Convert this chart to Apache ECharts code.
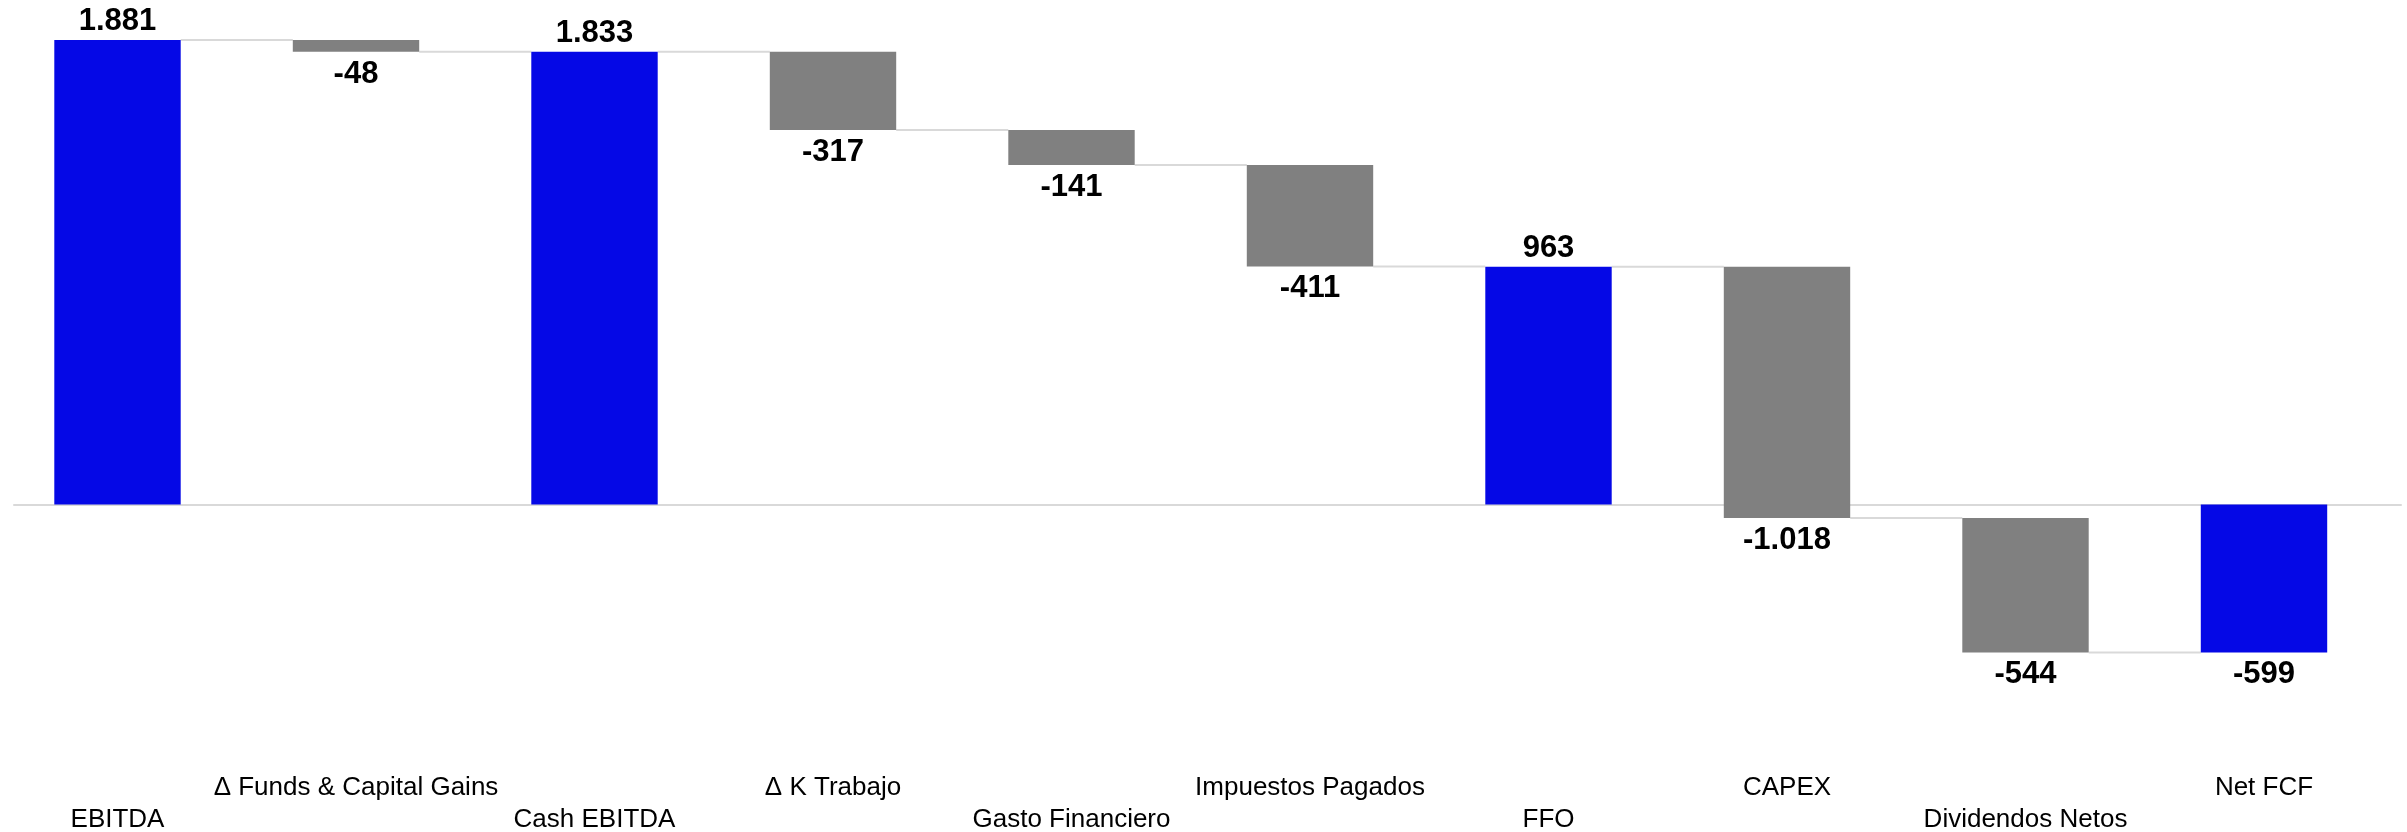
<!DOCTYPE html>
<html lang="es">
<head>
  <meta charset="UTF-8">
  <title>waterfall</title>
  <style>
    html, body { margin: 0; padding: 0; background: #fff; }
    #chart { width: 2407px; height: 832px; }
  </style>
</head>
<body>
  <div id="chart"></div>
  <script src="https://cdn.jsdelivr.net/npm/echarts@6/dist/echarts.min.js"></script>
  <script>
    var categories = ['EBITDA', 'Δ Funds & Capital Gains', 'Cash EBITDA', 'Δ K Trabajo', 'Gasto Financiero',
      'Impuestos Pagados', 'FFO', 'CAPEX', 'Dividendos Netos', 'Net FCF']
    var values = [1881, -48, 1833, -317, -141, -411, 963, -1018, -544, -599]
    var isTotal = [true, false, true, false, false, false, true, false, false, true]

    var yMin = -1000
    var yMax = 2000

    var fmt = function (v) {
      var s = String(Math.abs(v)).replace(/\B(?=(\d{3})+(?!\d))/g, '.')
      return (v < 0 ? '-' : '') + s
    }

    // build bar ranges and connectors
    var barData = []
    var linkData = []
    var level = 0
    values.forEach(function (v, i) {
      var from, to
      if (isTotal[i]) {
        from = 0
        to = v
      } else {
        from = level
        to = level + v
      }
      level = isTotal[i] ? v : to
      barData.push([i, Math.min(from, to), Math.max(from, to), v, isTotal[i] ? 1 : 0])
      if (i < values.length - 1) {
        linkData.push([i, level])
      }
    })

    var BAR = 0.53
    var labelFont = 'bold 31px "Liberation Sans", Arial, sans-serif'

    var option = {
      animation: false,
      backgroundColor: '#fff',
      grid: [
        { left: -1.75, right: 23.75, top: 10.5, bottom: 80.5, outerBoundsMode: 'none', containLabel: false },
        { left: 14, right: 6, top: 10.5, bottom: 80.5, outerBoundsMode: 'none', containLabel: false }
      ],
      xAxis: [
        {
          type: 'category',
          data: categories,
          gridIndex: 0,
          axisLine: { show: false, onZero: false },
          axisTick: { show: false },
          axisLabel: {
            interval: 0,
            margin: 20,
            color: '#000',
            fontSize: 26,
            lineHeight: 32,
            fontFamily: '"Liberation Sans", Arial, sans-serif',
            formatter: function (val, idx) {
              return idx % 2 === 0 ? '\n' + val : val
            }
          },
          splitLine: { show: false }
        },
        {
          type: 'category',
          data: [''],
          gridIndex: 1,
          axisLine: { show: true, onZero: true, lineStyle: { color: '#d9d9d9', width: 2 } },
          axisTick: { show: false },
          axisLabel: { show: false }
        }
      ],
      yAxis: [
        { type: 'value', gridIndex: 0, min: yMin, max: yMax, show: false },
        { type: 'value', gridIndex: 1, min: yMin, max: yMax, show: false }
      ],
      series: [
        {
          type: 'custom',
          xAxisIndex: 1,
          yAxisIndex: 1,
          data: [],
          renderItem: function () { return null }
        },
        {
          type: 'custom',
          name: 'links',
          z: 1,
          data: linkData,
          renderItem: function (params, api) {
            var i = api.value(0)
            var lv = api.value(1)
            var band = api.size([1, 0])[0]
            var a = api.coord([i, lv])
            var b = api.coord([i + 1, lv])
            return {
              type: 'line',
              shape: { x1: a[0] + band * BAR / 2, y1: a[1], x2: b[0] - band * BAR / 2, y2: b[1] },
              style: { stroke: '#d9d9d9', lineWidth: 2 }
            }
          }
        },
        {
          type: 'custom',
          name: 'bars',
          z: 2,
          data: barData,
          renderItem: function (params, api) {
            var i = api.value(0)
            var lo = api.value(1)
            var hi = api.value(2)
            var v = api.value(3)
            var total = api.value(4) === 1
            var band = api.size([1, 0])[0]
            var w = band * BAR
            var top = api.coord([i, hi])
            var bot = api.coord([i, lo])
            var up = v >= 0
            return {
              type: 'group',
              children: [
                {
                  type: 'rect',
                  shape: { x: top[0] - w / 2, y: top[1], width: w, height: bot[1] - top[1] },
                  style: { fill: total ? '#0508E6' : '#808080' }
                },
                {
                  type: 'text',
                  style: {
                    text: fmt(v),
                    x: top[0],
                    y: up ? top[1] - 3 : bot[1] + 7,
                    align: 'center',
                    verticalAlign: up ? 'bottom' : 'top',
                    font: labelFont,
                    fill: '#000'
                  }
                }
              ]
            }
          }
        }
      ]
    }

    var chart = echarts.init(document.getElementById('chart'))
    chart.setOption(option)
  </script>
</body>
</html>
